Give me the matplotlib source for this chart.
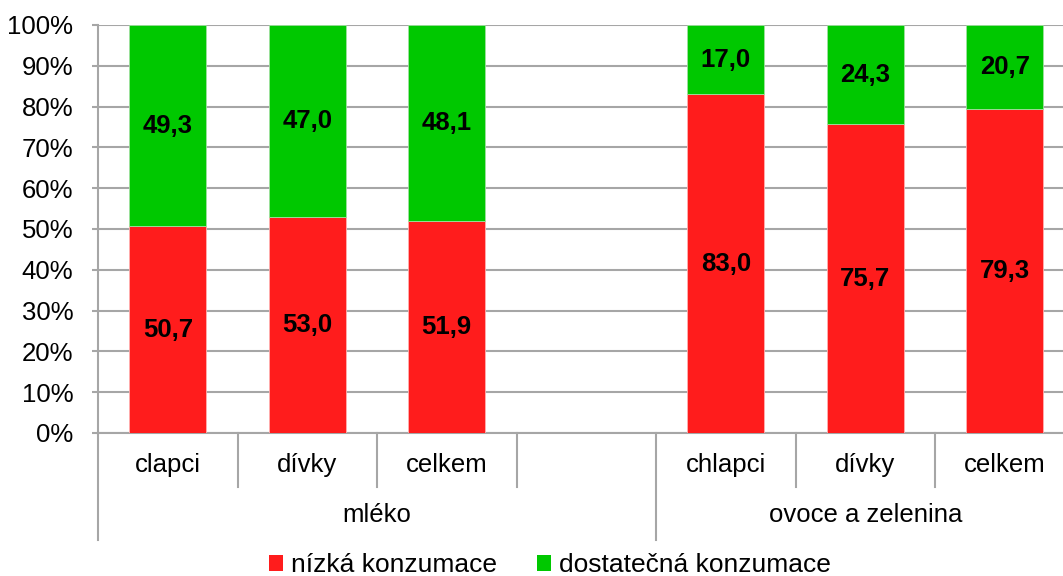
import numpy as np
import matplotlib
matplotlib.use("Agg")
import matplotlib.pyplot as plt
from matplotlib.patches import Patch
from matplotlib.lines import Line2D

plt.rcParams['font.family'] = ['Liberation Sans', 'DejaVu Sans']

# Data
subcategories = ["clapci", "dívky", "celkem", "", "chlapci", "dívky", "celkem"]
groups = ["mléko", "ovoce a zelenina"]
group_spans = [(0, 4), (4, 7)]  # slot ranges [start, end)
nizka = [50.7, 53.0, 51.9, np.nan, 83.0, 75.7, 79.3]
dostatecna = [49.3, 47.0, 48.1, np.nan, 17.0, 24.3, 20.7]
series_names = ["nízká konzumace", "dostatečná konzumace"]
yticks = [0, 10, 20, 30, 40, 50, 60, 70, 80, 90, 100]

RED = "#FF1C1C"
GREEN = "#00C800"
GRID = "#A6A6A6"
FS = 18.5

fig = plt.figure(figsize=(10.63, 5.76), dpi=100)
ax = fig.add_axes([98 / 1063, (576 - 433) / 576, (1074.5 - 98) / 1063, 408 / 576])

x = np.arange(len(subcategories))
n = np.array(nizka, dtype=float)
d = np.array(dostatecna, dtype=float)
width = 0.55
ax.bar(x, n, width, color=RED, edgecolor="#FFB0B0", linewidth=0.6, zorder=3)
ax.bar(x, d, width, bottom=n, color=GREEN, edgecolor="#A0E0A0", linewidth=0.6, zorder=3)

# Segment value labels
for xi, a, b in zip(x, n, d):
    if np.isnan(a):
        continue
    ax.text(xi, a / 2, f"{a:.1f}".replace(".", ","), ha="center", va="center",
            fontsize=FS, fontweight="bold", color="black", zorder=4)
    ax.text(xi, a + b / 2, f"{b:.1f}".replace(".", ","), ha="center", va="center",
            fontsize=FS, fontweight="bold", color="black", zorder=4)

ax.set_xlim(-0.5, len(subcategories) - 0.5)
ax.set_ylim(0, 100)
ax.set_yticks(yticks)
ax.set_yticklabels([f"{t}%" for t in yticks], fontsize=FS)
ax.tick_params(axis="y", length=4.3, width=1.5, color=GRID, pad=13.5)
ax.yaxis.grid(True, color=GRID, linewidth=1.5, zorder=0)
ax.set_axisbelow(True)
ax.set_xticks([])
for s in ["top", "right"]:
    ax.spines[s].set_visible(False)
ax.spines["left"].set_color(GRID)
ax.spines["left"].set_linewidth(1.5)
ax.spines["bottom"].set_color(GRID)
ax.spines["bottom"].set_linewidth(1.5)

# Hierarchical category axis
trans = ax.get_xaxis_transform()
px = 1 / 408  # one pixel in axes-y units
lvl1 = -54 * px
lvl2 = -107 * px
for i in range(len(subcategories) + 1):
    xb = i - 0.5
    bottom = lvl2 if any(xb == s - 0.5 for s, _ in group_spans) else lvl1
    ax.add_line(Line2D([xb, xb], [0, bottom], transform=trans, color=GRID,
                       linewidth=1.5, clip_on=False))
for xi, lab in zip(x, subcategories):
    ax.text(xi, -32 * px, lab, transform=trans, ha="center", va="center",
            fontsize=FS, clip_on=False)
for (s, e), g in zip(group_spans, groups):
    ax.text((s + e - 1) / 2, -82 * px, g, transform=trans, ha="center",
            va="center", fontsize=FS, clip_on=False)

handles = [Patch(facecolor=RED, edgecolor="none"), Patch(facecolor=GREEN, edgecolor="none")]
fig.legend(handles, series_names, loc="center", bbox_to_anchor=(550 / 1063, 1 - 565 / 576),
           ncol=2, frameon=False, fontsize=19, handlelength=0.55, handleheight=0.55,
           handletextpad=0.3, columnspacing=1.5, borderaxespad=0)

fig.savefig("out.png", dpi=100)
